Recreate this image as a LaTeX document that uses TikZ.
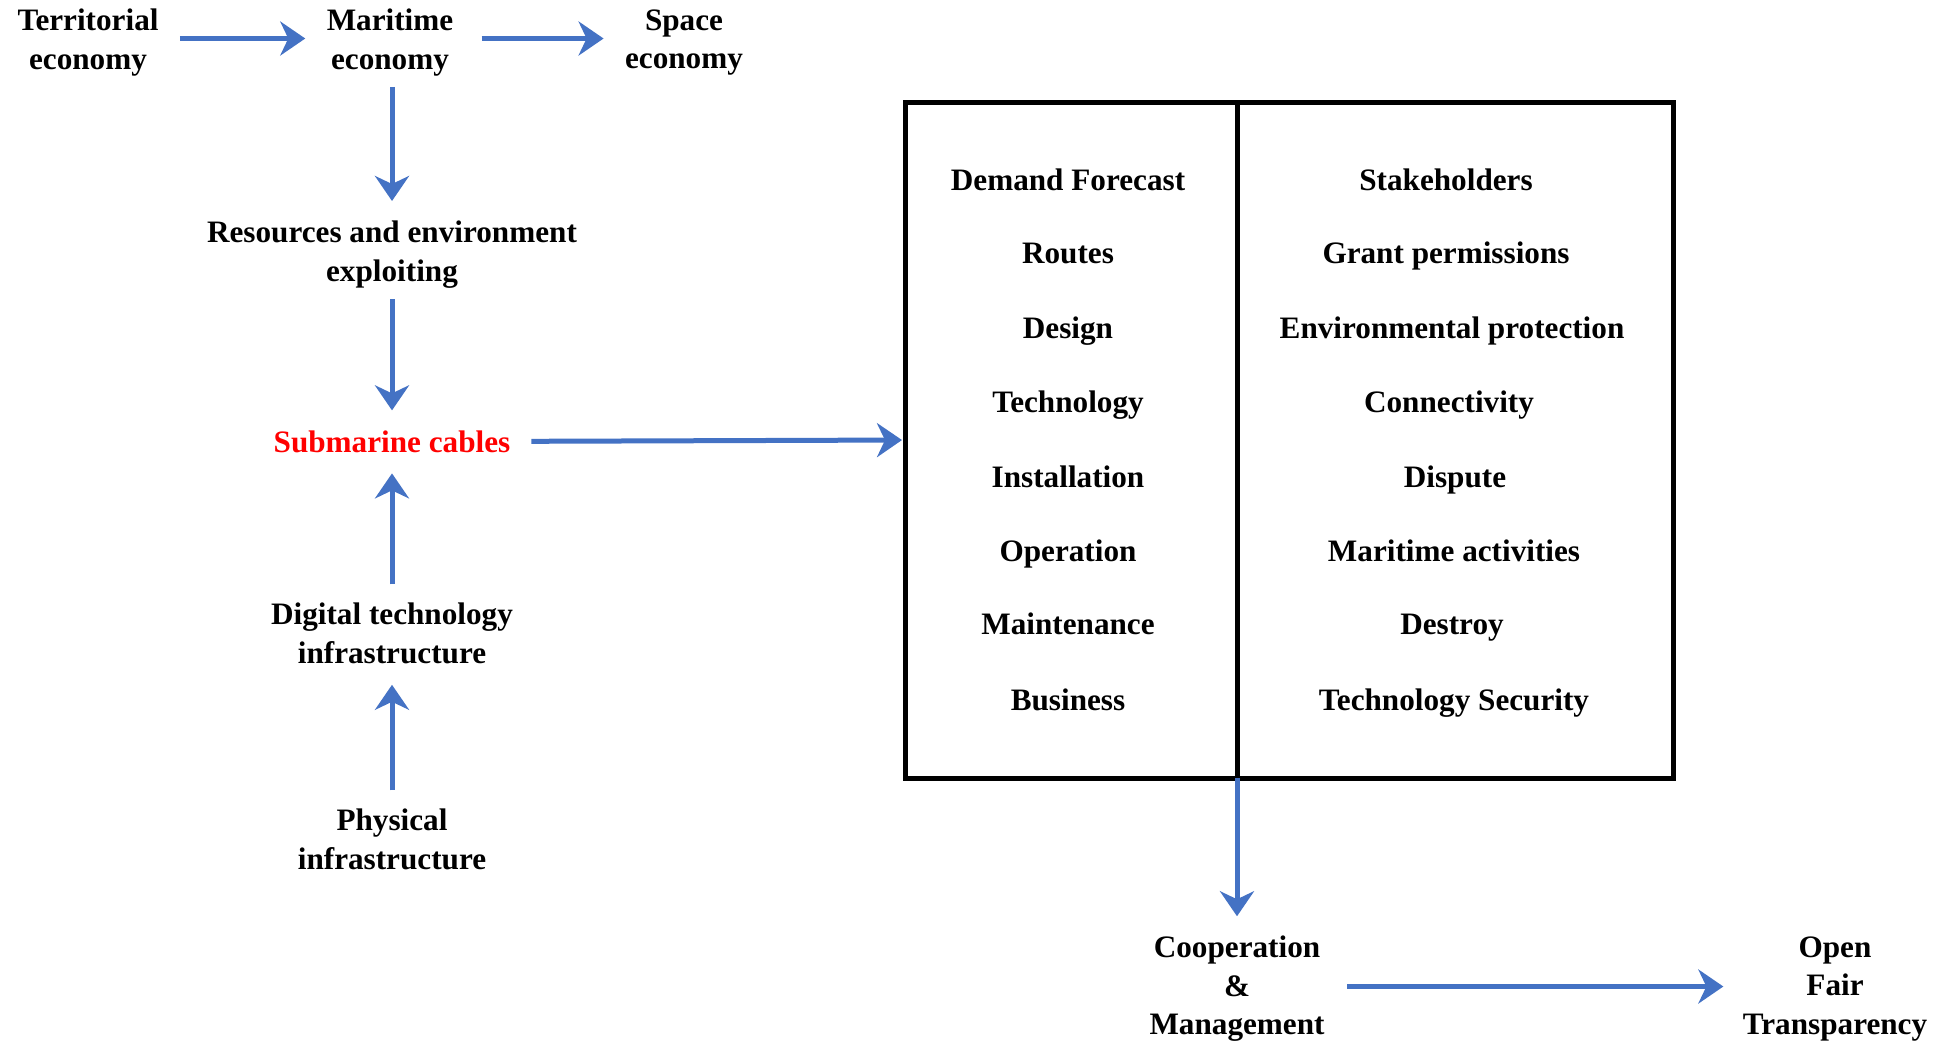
\documentclass[tikz,border=0pt]{standalone}
\usepackage{fontspec}
\setmainfont{Liberation Serif}
\usetikzlibrary{arrows.meta}
\definecolor{arrblue}{HTML}{4472C4}
\definecolor{redtxt}{HTML}{FF0000}
\tikzset{
  lbl/.style={inner sep=0pt, outer sep=0pt, align=center, font=\bfseries\fontsize{15.6}{19.25}\selectfont},
  item/.style={lbl, anchor=base},
  arr/.style={draw=arrblue, line width=2.5pt, -{Stealth[length=12.5pt, width=17pt, inset=4pt]}},
  frame/.style={draw=black, line width=2.5pt, inner sep=0pt, outer sep=0pt}
}
\begin{document}
\begin{tikzpicture}[x=0.5pt, y=-0.5pt]
\useasboundingbox (0,0) rectangle (1946,1041);
% top row
\node[lbl] (terr) at (88,42.5) {Territorial\\economy};
\node[lbl] (mar) at (390,42.5) {Maritime\\economy};
\node[lbl] (space) at (684,42.5) {Space\\economy};
% left column
\node[lbl] (res) at (392,254.5) {Resources and environment\\exploiting};
\node[lbl, text=redtxt, anchor=base] (sub) at (392,452) {Submarine cables};
\node[lbl] (dig) at (392,633.5) {Digital technology\\infrastructure};
\node[lbl] (phys) at (392,839.5) {Physical\\infrastructure};
% box
\node[frame, minimum width=332pt/2, minimum height=676pt/2, anchor=north west] (lcol) at (905,102) {};
\node[frame, minimum width=436pt/2, minimum height=676pt/2, anchor=north west] (rcol) at (1237,102) {};
% left items
\node[item] (l1) at (1068,190) {Demand Forecast};
\node[item] (l2) at (1068,263) {Routes};
\node[item] (l3) at (1068,338) {Design};
\node[item] (l4) at (1068,412) {Technology};
\node[item] (l5) at (1068,487) {Installation};
\node[item] (l6) at (1068,561) {Operation};
\node[item] (l7) at (1068,634) {Maintenance};
\node[item] (l8) at (1068,710) {Business};
% right items
\node[item] (r1) at (1446,190) {Stakeholders};
\node[item] (r2) at (1446,263) {Grant permissions};
\node[item] (r3) at (1452,338) {Environmental protection};
\node[item] (r4) at (1449,412) {Connectivity};
\node[item] (r5) at (1455,487) {Dispute};
\node[item] (r6) at (1454,561) {Maritime activities};
\node[item] (r7) at (1452,634) {Destroy};
\node[item] (r8) at (1454,710) {Technology Security};
% bottom
\node[lbl] (coop) at (1237,989) {Cooperation\\\&\\Management};
\node[lbl] (open) at (1835,989) {Open\\Fair\\Transparency};
% arrows
\draw[arr, shorten <=10.75pt, shorten >=10.75pt] ([yshift=2pt]terr.east) -- ([yshift=2pt]mar.west);
\draw[arr, shorten <=14.25pt, shorten >=10.75pt] ([yshift=2pt]mar.east) -- ([yshift=2pt]space.west);
\draw[arr, shorten <=5.5pt, shorten >=10pt] (res.north |- mar.south) -- (res.north);
\draw[arr, shorten <=5.5pt, shorten >=10pt] (res.south) -- (sub.north);
\draw[arr, shorten <=9.5pt, shorten >=10.5pt] (dig.north) -- (sub.south);
\draw[arr, shorten <=9.5pt, shorten >=10.5pt] (phys.north) -- (dig.south);
\draw[arr, shorten <=10.5pt, shorten >=1.5pt] (sub.east) -- (lcol.west);
\draw[arr, shorten >=10pt] (lcol.south east) -- (coop.north);
\draw[arr, shorten <=11.25pt, shorten >=9.75pt] ([yshift=1.25pt]coop.east) -- ([yshift=1.25pt]open.west);
\end{tikzpicture}
\end{document}
